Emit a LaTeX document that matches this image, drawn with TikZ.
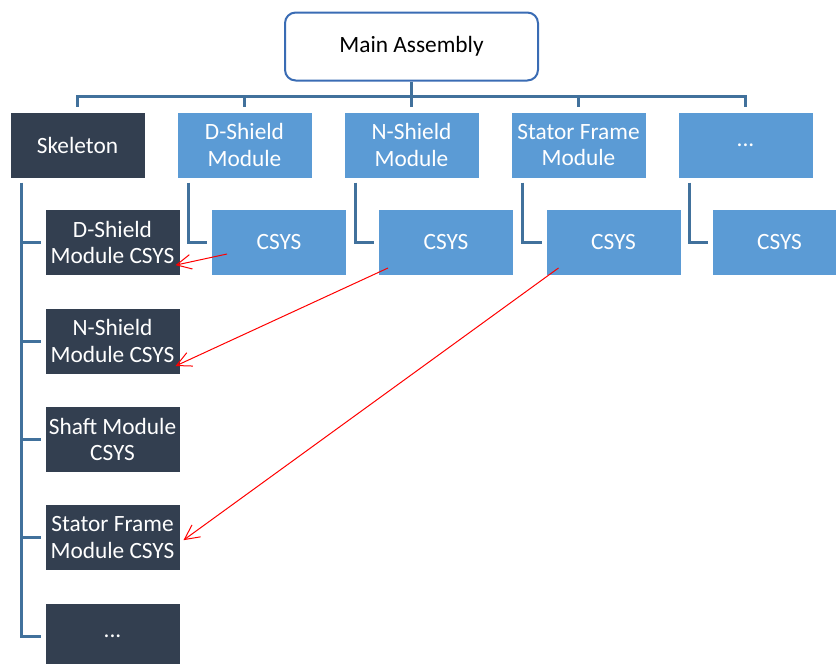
\documentclass[tikz,border=0pt]{standalone}
\usepackage{fontspec}
\setmainfont{Carlito}
\usetikzlibrary{arrows.meta}
\definecolor{navy}{HTML}{333F50}
\definecolor{cell}{HTML}{5B9BD5}
\definecolor{wire}{HTML}{41719C}
\definecolor{rim}{HTML}{3A6CB4}
\begin{document}
\begin{tikzpicture}[x=.75pt,y=-.75pt,
  every node/.append style={font=\fontsize{17.5}{20}\selectfont,align=center,inner sep=0pt},
  box/.style={draw=white,line width=.75pt,minimum width=101.25pt,minimum height=49.5pt,text=white},
  dark/.style={box,fill=navy},
  light/.style={box,fill=cell},
  link/.style={draw=wire,line width=2.25pt},
  ref/.style={draw=red,line width=.75pt,-{Straight Barb[length=11pt,width=11pt]}}]
  \useasboundingbox(0,0)rectangle(836,664);
  \node[draw=rim,line width=1.5pt,rounded corners=8pt,fill=white,minimum width=189.75pt,minimum height=51pt](main)at(411.5,46.5){Main Assembly};
  % top row
  \node[dark](skel)at(77.5,145){Skeleton};
  \node[light](dsm)at(244.5,145){D-Shield\\Module};
  \node[light](nsm)at(411.5,145){N-Shield\\Module};
  \node[light](sfm)at(578.5,145){Stator Frame\\Module};
  \node[light](more)at(745.5,145){...};
  % csys row
  \node[light](dcs)at(279,242.5){CSYS};
  \node[light](ncs)at(446,242.5){CSYS};
  \node[light](scs)at(613.5,242.5){CSYS};
  \node[light](mcs)at(779.5,242.5){CSYS};
  % skeleton column
  \node[dark](k1)at(112.5,242.5){D-Shield\\Module CSYS};
  \node[dark](k2)at(112.5,341){N-Shield\\Module CSYS};
  \node[dark](k3)at(112.5,439.5){Shaft Module\\CSYS};
  \node[dark](k4)at(112.5,537.5){Stator Frame\\Module CSYS};
  \node[dark](k5)at(112.5,636){...};
  % tree lines
  \coordinate(bus)at([yshift=-11.6pt]main.south);
  \draw[link](main.south)--(bus);
  \draw[link]([yshift=3.75pt]skel.north)|-(bus)-|([yshift=3.75pt]more.north);
  \foreach \n in {dsm,nsm,sfm}\draw[link](bus-|\n.north)--([yshift=3.75pt]\n.north);
  \foreach \m/\c in {dsm/dcs,nsm/ncs,sfm/scs,more/mcs}
    \draw[link]([xshift=9pt,yshift=-3pt]\m.south west)|-([xshift=-3pt]\c.west);
  \coordinate(spine)at([xshift=9pt,yshift=-3pt]skel.south west);
  \draw[link](spine)|-([xshift=-3pt]k5.west);
  \foreach \k in {k1,k2,k3,k4}\draw[link](spine|-\k.west)--([xshift=-3pt]\k.west);
  % references
  \draw[ref]([xshift=12pt,yshift=16.5pt]dcs.south west)--([xshift=-3.75pt,yshift=-17pt]k1.east);
  \draw[ref]([xshift=7.5pt,yshift=6pt]ncs.south west)--([xshift=-3.75pt,yshift=-18.75pt]k2.east);
  \draw[ref]([xshift=9.75pt,yshift=6pt]scs.south west)--([xshift=2.25pt,yshift=-2pt]k4.east);
\end{tikzpicture}
\end{document}
